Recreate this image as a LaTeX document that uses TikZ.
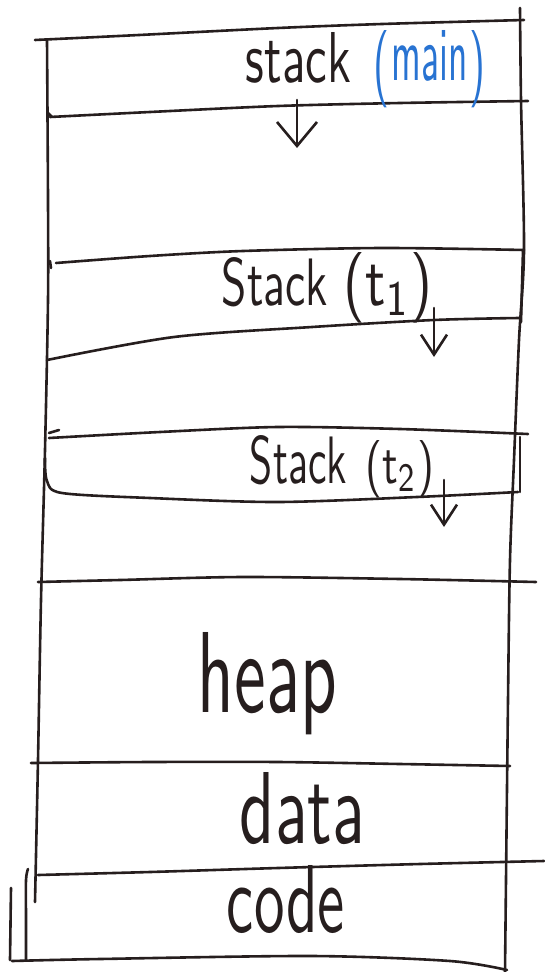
\documentclass[tikz,border=0pt]{standalone}
\usepackage{graphicx}
\usetikzlibrary{arrows.meta}
\definecolor{ink}{RGB}{38,30,30}
\definecolor{blueink}{RGB}{40,115,210}
\tikzset{
  pen/.style={draw=ink, line width=2.6pt, line cap=round, line join=round},
  lbl/.style={inner sep=0pt, anchor=base, text=ink, font=\sffamily},
  bigarrow/.style={pen, -{Straight Barb[length=24pt, width=40pt]}},
  smallarrow/.style={pen, -{Straight Barb[length=20pt, width=26pt]}}
}
\begin{document}
\begin{tikzpicture}[x=1pt,y=-1pt]
\useasboundingbox (0,0) rectangle (544,972);
\fill[white] (0,0) rectangle (544,972);

% outer frame
\draw[pen] plot[smooth] coordinates {(35,40) (139,35) (278,28) (382,24) (524,20)};
\draw[pen] plot[smooth] coordinates {(520,8) (521,100) (524,250) (519,340) (514,460) (510,560) (508,700) (505,972)};
\draw[pen] (523,250) -- (521,322);
\draw[pen] plot[smooth] coordinates {(47,40) (48,200) (48,300) (45,450) (41,600) (38,760) (35,902)};
\draw[pen] plot[smooth] coordinates {(12,961) (100,959) (312,956) (450,961) (507,970)};
% extra marks at bottom left
\draw[pen] plot[smooth] coordinates {(28,869) (26,880) (26,920) (26,960)};
\draw[pen] (11,888) -- (10,960);

% stack (main)
\draw[pen] plot[smooth] coordinates {(50,117) (150,112) (278,106) (400,103) (528,101)};
\draw[pen] (48,113) -- (52,117);
\node[lbl] (stackmain) at (298.5,82) {\resizebox{105pt}{50pt}{stack}};
\node[lbl, text=blueink] (mainlbl) at (429.5,80) {\raisebox{-8pt}{\resizebox{16pt}{58pt}{(}}\hspace{2pt}\resizebox{76pt}{50pt}{main}\hspace{2pt}\raisebox{-8pt}{\resizebox{16pt}{58pt}{)}}};
\coordinate (a1s) at (297,100);
\coordinate (a1e) at (297,148);
\draw[bigarrow] (a1s) -- (a1e);

% stack (t1)
\draw[pen] plot[smooth] coordinates {(56,263) (150,256) (243,251) (382,248) (524,250)};
\draw[pen] (50,261) -- (51,268);
\draw[pen] plot[smooth] coordinates {(47,360) (174,337) (312,327) (434,320) (519,318)};
\node[lbl] (t1lbl) at (327,305) {\resizebox{106pt}{48pt}{Stack}\hspace{16pt}\resizebox{88pt}{53pt}{(t\textsubscript{1})}};
\coordinate (a2s) at (434,308);
\coordinate (a2e) at (434,357);
\draw[smallarrow] (a2s) -- (a2e);

% stack (t2)
\draw[pen] (49,433) -- (59,430);
\draw[pen] plot[smooth] coordinates {(49,438) (160,432) (278,427) (400,429) (528,434)};
\draw[pen] (520,437) -- (520,492);
\draw[pen] plot[smooth] coordinates {(45,458) (47,481) (62,493) (150,498) (278,502) (417,497) (518,492)};
\node[lbl] (t2lbl) at (342,483) {\resizebox{97pt}{48pt}{Stack}\hspace{19pt}\resizebox{68pt}{43pt}{(t\textsubscript{2})}};
\coordinate (a3s) at (444,480);
\coordinate (a3e) at (444,527);
\draw[smallarrow] (a3s) -- (a3e);

% heap
\draw[pen] plot[smooth] coordinates {(38,582) (120,580) (243,577) (400,579) (536,582)};
\node[lbl] (heaplbl) at (267.5,712) {\resizebox{139pt}{80pt}{heap}};

% data
\draw[pen] plot[smooth] coordinates {(31,763) (150,762) (278,762) (400,764) (510,766)};
\node[lbl] (datalbl) at (302.5,843) {\resizebox{125pt}{71pt}{data}};

% code
\draw[pen] plot[smooth] coordinates {(38,875) (150,872) (278,868) (420,864) (544,861)};
\node[lbl] (codelbl) at (286,932) {\resizebox{118pt}{67pt}{code}};
\end{tikzpicture}
\end{document}
